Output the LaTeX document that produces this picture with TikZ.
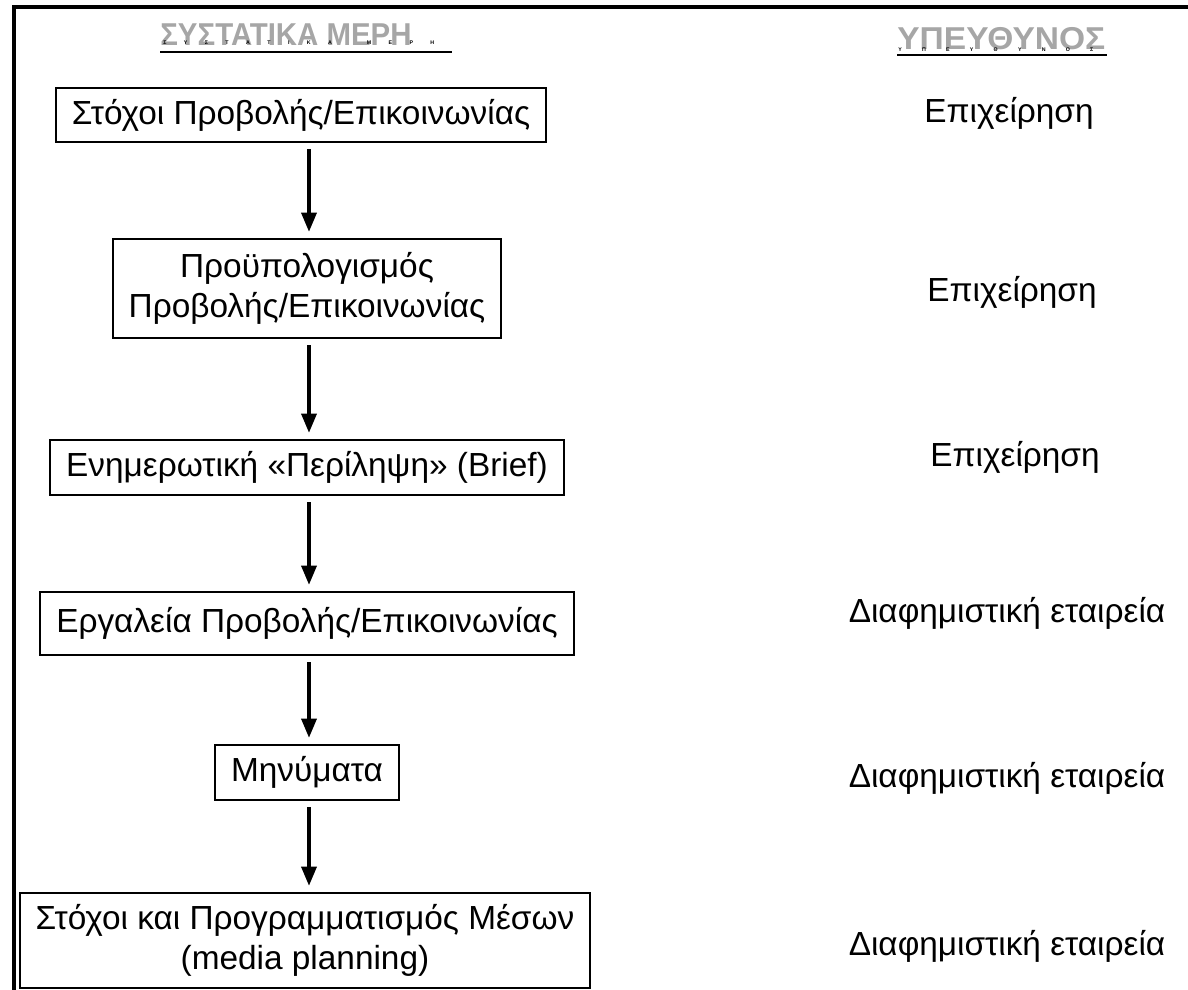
\documentclass[tikz,border=0pt]{standalone}
\usepackage{fontspec}
\setmainfont{Liberation Sans}
\usetikzlibrary{arrows.meta,positioning}
\definecolor{headgray}{HTML}{A6A6A6}

\begin{document}
\begin{tikzpicture}[
  x=0.02cm,y=-0.02cm,
  stage/.style={draw=black,line width=1.1pt,align=center,font=\fontsize{19}{23}\selectfont,inner xsep=9pt,inner ysep=0pt},
  who/.style={font=\fontsize{19}{23}\selectfont},
  head/.style={text=headgray,font=\fontsize{18}{20}\bfseries,inner sep=0pt,anchor=south west},
  tiny/.style={font=\fontsize{3}{3.5}\bfseries,inner sep=0pt,anchor=base west},
  flow/.style={-{Triangle[length=11pt,width=8.5pt]},line width=2.2pt,shorten <=3.5pt,shorten >=3.5pt}
]
\useasboundingbox (0,0) rectangle (1188,990);
\draw[line width=2.3pt] (14,990) -- (14,7) -- (1188,7);

% headers
\node[head] (parts) at (160,46) {\scalebox{0.93}[1]{ΣΥΣΤΑΤΙΚΑ ΜΕΡΗ}};
\node[tiny] (partsb) at (163,45) {\makebox[5.42cm][s]{Σ\hfill Υ\hfill Σ\hfill Τ\hfill Α\hfill Τ\hfill Ι\hfill Κ\hfill Α\hfill\hfill Μ\hfill Ε\hfill Ρ\hfill Η}};
\draw[line width=1.3pt] (160,52) -- (452,52);
\node[head] (resp) at (897,50) {\scalebox{1.06}[1]{ΥΠΕΥΘΥΝΟΣ}};
\node[tiny] (respb) at (898,52) {\makebox[3.9cm][s]{Υ\hfill Π\hfill Ε\hfill Υ\hfill Θ\hfill Υ\hfill Ν\hfill Ο\hfill Σ}};
\draw[line width=1.5pt] (897,55) -- (1107,55);

% stages
\node[stage,anchor=west,minimum height=1.08cm] (goals) at (55,115) {Στόχοι Προβολής/Επικοινωνίας};
\node[stage,minimum height=1.98cm] (budget) at (307,288.5) {Προϋπολογισμός\\Προβολής/Επικοινωνίας};
\node[stage,minimum height=1.1cm] (brief) at (307,467.5) {Ενημερωτική «Περίληψη» (Brief)};
\node[stage,minimum height=1.26cm] (tools) at (307,623.5) {Εργαλεία Προβολής/Επικοινωνίας};
\node[stage,minimum height=1.1cm] (msgs) at (307,772.5) {Μηνύματα};
\node[stage,minimum height=1.9cm] (media) at (305,940.5) {Στόχοι και Προγραμματισμός Μέσων\\(media planning)};

% who is responsible
\node[who] (w1) at (1009,113) {Επιχείρηση};
\node[who] (w2) at (1012,292) {Επιχείρηση};
\node[who] (w3) at (1015,457) {Επιχείρηση};
\node[who] (w4) at (1007,613) {Διαφημιστική εταιρεία};
\node[who] (w5) at (1007,778) {Διαφημιστική εταιρεία};
\node[who] (w6) at (1007,946) {Διαφημιστική εταιρεία};

% arrows
\coordinate (axis) at (309,0);
\draw[flow] (goals.south -| axis) -- (budget.north -| axis);
\draw[flow] (budget.south -| axis) -- (brief.north -| axis);
\draw[flow] (brief.south -| axis) -- (tools.north -| axis);
\draw[flow] (tools.south -| axis) -- (msgs.north -| axis);
\draw[flow] (msgs.south -| axis) -- (media.north -| axis);
\end{tikzpicture}
\end{document}
